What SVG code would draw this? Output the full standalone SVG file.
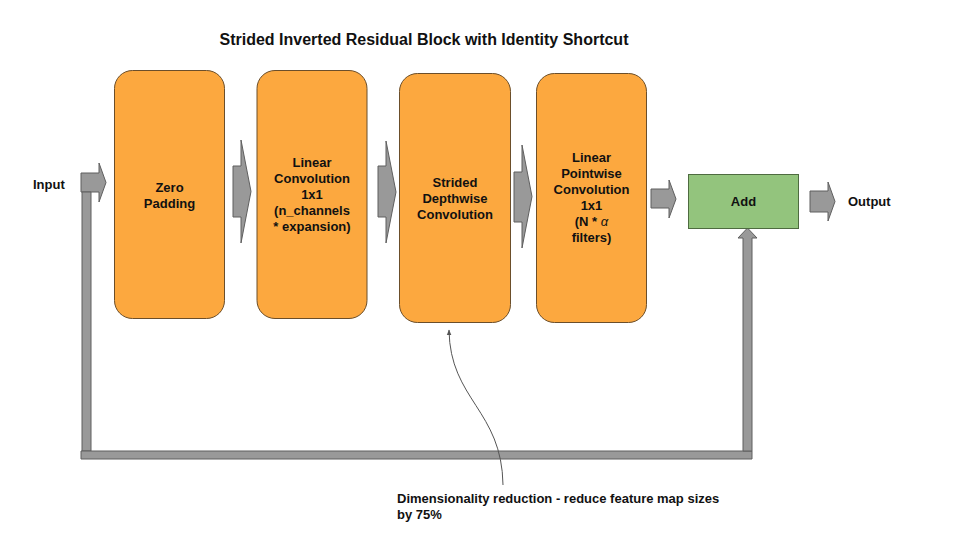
<svg xmlns="http://www.w3.org/2000/svg" width="960" height="540" viewBox="0 0 960 540">
<style>
.box{fill:#fca83f;stroke:#6b4e2a;stroke-width:1}
.add{fill:#93c47d;stroke:#4e6b40;stroke-width:1}
.arr{fill:#999999;stroke:#5f5f5f;stroke-width:1}
.t{font-family:"Liberation Sans",Arial,sans-serif;font-weight:bold;font-size:13px;fill:#111;text-anchor:middle}
.l{font-family:"Liberation Sans",Arial,sans-serif;font-weight:bold;font-size:13px;fill:#111}
</style>
<defs>
<marker id="ah" viewBox="0 0 10 10" refX="9" refY="5" markerWidth="6" markerHeight="6" orient="auto" markerUnits="userSpaceOnUse">
<path d="M0,1 L10,5 L0,9 Z" fill="#555"/>
</marker>
</defs>
<rect width="960" height="540" fill="#fff"/>
<text x="424" y="45" class="t" style="font-size:16px">Strided Inverted Residual Block with Identity Shortcut</text>

<g id="connectors">
<polygon class="arr" points="81,173 99,173 99,163 106,182.5 99,202 99,192 81,192"/>
<polygon class="arr" points="82,192 91,192 91,451 82,451"/>
<polygon class="arr" points="81,451 752,451 752,459 81,459"/>
<polygon class="arr" points="743,451 743,238 738,238 747.5,228 757,238 752,238 752,451"/>
<polygon class="arr" points="233,166 241,166 241,140 251,191.5 241,243 241,217 233,217"/>
<polygon class="arr" points="378,166 386,166 386,141 396,192 386,243 386,217 378,217"/>
<polygon class="arr" points="514,172 522,172 522,145 532,196.5 522,248 522,222 514,222"/>
<polygon class="arr" points="651,189 669,189 669,180 676,199 669,218 669,208 651,208"/>
<polygon class="arr" points="810,191 828,191 828,182 835,201.5 828,221 828,212 810,212"/>
<path d="M503,485 C502,410 450,400 449,330" fill="none" stroke="#555" stroke-width="1" marker-end="url(#ah)"/>
</g>

<g id="input"><text x="33" y="189" class="l">Input</text></g>
<g id="zero-padding">
<rect class="box" x="114.5" y="70.5" width="110" height="248" rx="18"/>
<text class="t" x="169.5" y="192">Zero</text>
<text class="t" x="169.5" y="208">Padding</text>
</g>
<g id="linear-conv">
<rect class="box" x="257" y="70.5" width="110" height="248" rx="18"/>
<text class="t" x="312" y="167">Linear</text>
<text class="t" x="312" y="183">Convolution</text>
<text class="t" x="312" y="199">1x1</text>
<text class="t" x="312" y="215">(n_channels</text>
<text class="t" x="312" y="231">* expansion)</text>
</g>
<g id="depthwise">
<rect class="box" x="399.5" y="73.5" width="111" height="249" rx="18"/>
<text class="t" x="455" y="187">Strided</text>
<text class="t" x="455" y="203">Depthwise</text>
<text class="t" x="455" y="219">Convolution</text>
</g>
<g id="pointwise">
<rect class="box" x="536.5" y="73.5" width="110" height="249" rx="18"/>
<text class="t" x="591.5" y="162">Linear</text>
<text class="t" x="591.5" y="178">Pointwise</text>
<text class="t" x="591.5" y="194">Convolution</text>
<text class="t" x="591.5" y="210">1x1</text>
<text class="t" x="591.5" y="226">(N * <tspan font-style="italic" font-weight="normal">α</tspan></text>
<text class="t" x="591.5" y="242">filters)</text>
</g>
<g id="add">
<rect class="add" x="688.5" y="174.5" width="110" height="54"/>
<text class="t" x="743.5" y="206">Add</text>
</g>
<g id="output"><text x="848" y="206" class="l">Output</text></g>
<g id="note">
<text x="397" y="503" class="l">Dimensionality reduction - reduce feature map sizes</text>
<text x="397" y="519" class="l">by 75%</text>
</g>
</svg>
